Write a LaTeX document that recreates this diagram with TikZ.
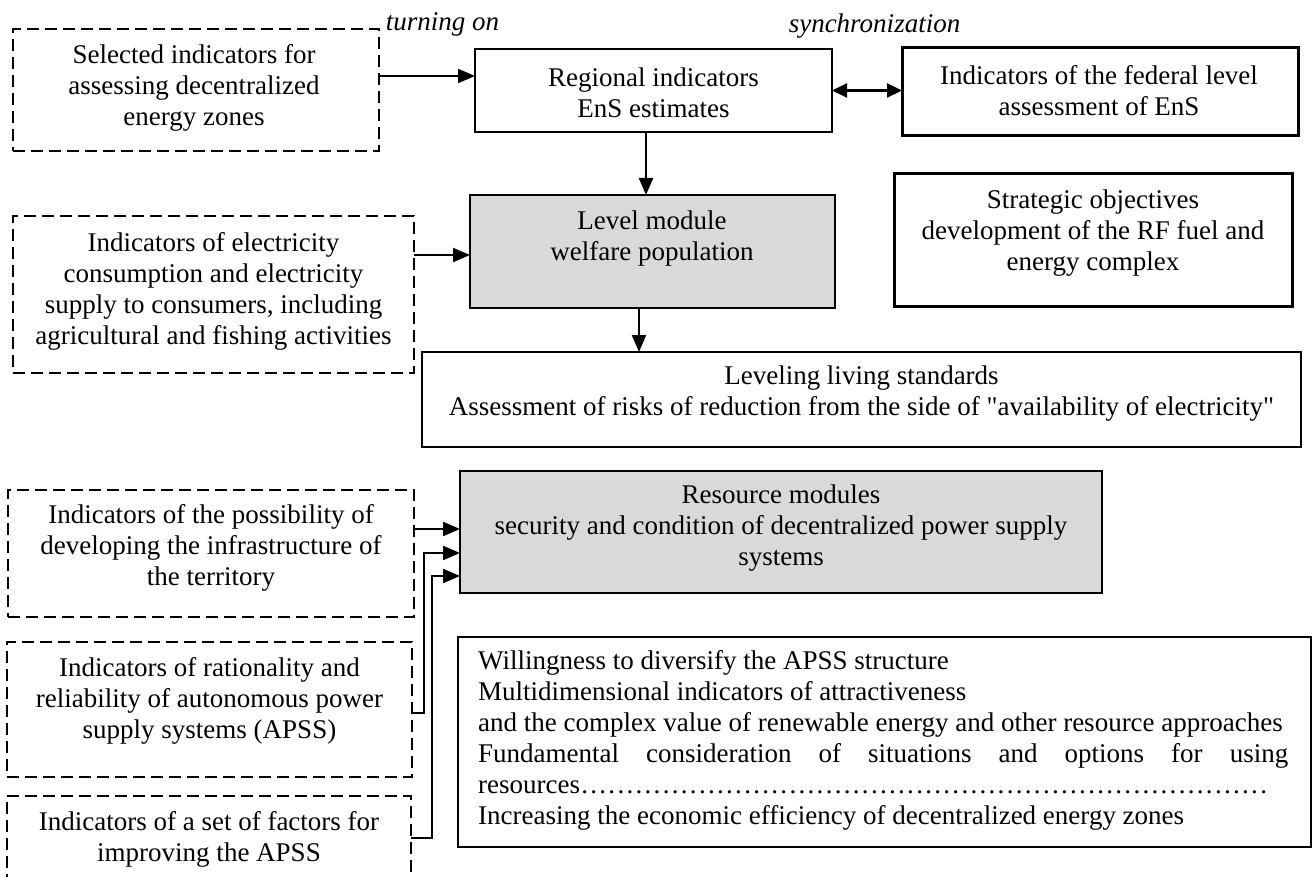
\documentclass[tikz,border=0pt]{standalone}
\usepackage{fontspec}
\setmainfont{Liberation Serif}[Ligatures=TeXOff]
\usetikzlibrary{arrows.meta}
\definecolor{boxgray}{HTML}{D9D9D9}
\begin{document}
\begin{tikzpicture}[x=1pt,y=-1pt,
  txt/.style={font=\fontsize{27}{31}\selectfont, align=center, inner sep=0pt},
  boxbase/.style={rectangle, inner sep=0pt, outer sep=0pt},
  dbox/.style={boxbase, draw, line width=1.6pt, dash pattern=on 12pt off 6pt},
  sbox/.style={boxbase, draw, line width=1.6pt},
  tbox/.style={boxbase, draw, line width=3pt},
  gbox/.style={boxbase, draw, line width=1.6pt, fill=boxgray},
  arr/.style={line width=2.2pt, -{Triangle[length=17pt,width=14pt]}},
  darr/.style={line width=2.2pt, {Triangle[length=15pt,width=14pt]}-{Triangle[length=15pt,width=14pt]}},
  lab/.style={font=\fontsize{27}{31}\selectfont\itshape, anchor=base, inner sep=0pt}
]
\fill[white] (0,0) rectangle (1314,877);
\useasboundingbox (0,0) rectangle (1314,877);

% boxes
\node[dbox, minimum width=366pt, minimum height=122pt] (d1) at (196,90) {};
\node[sbox, minimum width=357pt, minimum height=83pt] (reg) at (653.5,90.5) {};
\node[tbox, minimum width=396pt, minimum height=88pt] (fed) at (1100,92) {};
\node[gbox, minimum width=365pt, minimum height=113pt] (level) at (652.5,251.5) {};
\node[dbox, minimum width=401pt, minimum height=157pt] (d2) at (213.5,294.5) {};
\node[tbox, minimum width=398pt, minimum height=132pt] (strat) at (1093,240) {};
\node[sbox, minimum width=879pt, minimum height=95pt] (lev) at (861.5,399.5) {};
\node[gbox, minimum width=642pt, minimum height=122pt] (res) at (781,532) {};
\node[dbox, minimum width=406pt, minimum height=127pt] (d3) at (211,553.5) {};
\node[dbox, minimum width=405pt, minimum height=135pt] (d4) at (209.5,709.5) {};
\begin{scope}
\clip (0,0) rectangle (1314,877);
\node[dbox, minimum width=404pt, minimum height=104pt] (d5) at (209,848) {};
\end{scope}
\node[sbox, minimum width=853pt, minimum height=210pt] (br) at (884.5,742) {};

% texts
\node[lab] (lon) at (442.5,31) {turning on};
\node[lab] (lsync) at (874.5,33) {synchronization};
\node[txt] (d1t) at (194,88) {Selected indicators for\\assessing decentralized\\energy zones};
\node[txt] (regt) at (653.5,93) {Regional indicators\\EnS estimates};
\node[txt] (fedt) at (1099,91) {Indicators of the federal level\\assessment of EnS};
\node[txt] (levelt) at (652,239) {Level module\\welfare population};
\node[txt] (d2t) at (213.5,291) {Indicators of electricity\\consumption and electricity\\supply to consumers, including\\agricultural and fishing activities};
\node[txt] (stratt) at (1093,233.5) {Strategic objectives\\development of the RF fuel and\\energy complex};
\node[txt] (levt) at (861.5,394) {Leveling living standards\\Assessment of risks of reduction from the side of "availability of electricity"};
\node[txt] (rest) at (781,528) {Resource modules\\security and condition of decentralized power supply\\systems};
\node[txt] (d3t) at (211,548) {Indicators of the possibility of\\developing the infrastructure of\\the territory};
\node[txt] (d4t) at (209.5,701) {Indicators of rationality and\\reliability of autonomous power\\supply systems (APSS)};
\node[txt] (d5t) at (209,839) {Indicators of a set of factors for\\improving the APSS};
\node[txt, align=left, anchor=west] (brt) at (478,740) {Willingness to diversify the APSS structure\\
Multidimensional indicators of attractiveness\\
and the complex value of renewable energy and other resource approaches\\
\makebox[810pt][s]{Fundamental consideration of situations and options for using}\\
\makebox[790pt][l]{resources\xleaders\hbox to 9pt{\hss.\hss}\hfill}\\
Increasing the economic efficiency of decentralized energy zones};

% connectors
\draw[arr] ([yshift=14pt]d1.east) -- ([yshift=14pt]d1.east -| reg.west);
\draw[darr] (reg.east) -- (reg.east -| fed.west);
\draw[arr] ([xshift=-7.5pt]reg.south) -- ([xshift=-7.5pt]reg.south |- level.north);
\draw[arr] ([yshift=39.5pt]d2.east) -- ([yshift=39.5pt]d2.east -| level.west);
\draw[arr] ([xshift=-13.5pt]level.south) -- ([xshift=-13.5pt]level.south |- lev.north);
\draw[arr] ([yshift=24.5pt]d3.east) -- ([yshift=24.5pt]d3.east -| res.west);
\draw[arr] ([yshift=-3.5pt]d4.east) -- ++(12,0) |- ([yshift=-21pt]res.west);
\draw[arr] ([yshift=10pt]d5.east) -- ++(21,0) |- ([yshift=-44pt]res.west);
\end{tikzpicture}
\end{document}
